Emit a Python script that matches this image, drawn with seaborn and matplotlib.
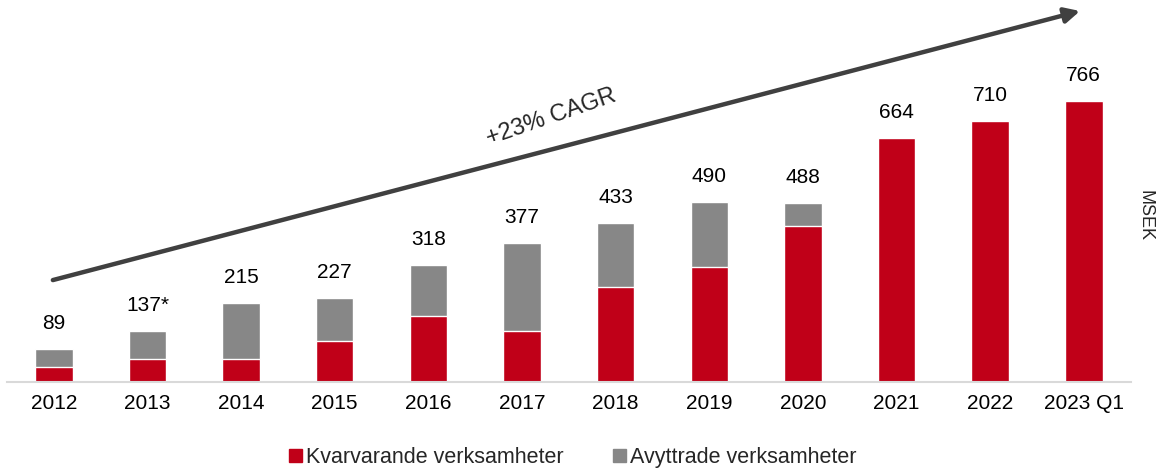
import numpy as np
import matplotlib
matplotlib.use("Agg")
import matplotlib.pyplot as plt
import seaborn as sns
from matplotlib.patches import Patch

# Data (MSEK)
years = ["2012", "2013", "2014", "2015", "2016", "2017", "2018", "2019", "2020", "2021", "2022", "2023 Q1"]
kvarvarande = [41, 62, 63, 110, 180, 137, 258, 312, 424, 664, 710, 766]
avyttrade = [48, 75, 152, 117, 138, 240, 175, 178, 64, 0, 0, 0]
total_labels = ["89", "137*", "215", "227", "318", "377", "433", "490", "488", "664", "710", "766"]

RED = "#C00018"
GREY = "#878787"

sns.set_style("white")
plt.rcParams['font.family'] = ['Liberation Sans', 'DejaVu Sans']

fig = plt.figure(figsize=(11.62, 4.69), dpi=100)
ax = fig.add_axes([0.006, 0.186, 0.967, 0.814])

totals = np.array(kvarvarande) + np.array(avyttrade)

# stacked bars: full total in grey, red part drawn on top
sns.barplot(x=years, y=totals, color=GREY, width=0.4, saturation=1, ax=ax)
sns.barplot(x=years, y=kvarvarande, color=RED, width=0.4, saturation=1, ax=ax)

for i, lab in enumerate(total_labels):
    ax.annotate(lab, (i, totals[i]), xytext=(0, 16), textcoords="offset pixels",
                ha="center", va="bottom", fontsize=15, color="black")

ax.set_xlim(-0.5, len(years) - 0.5)
ax.set_ylim(0, 1040)
ax.set_yticks([])
ax.set_xlabel("")
ax.set_ylabel("")
for s in ["top", "right", "left"]:
    ax.spines[s].set_visible(False)
ax.spines["bottom"].set_color("#D9D9D9")
ax.spines["bottom"].set_linewidth(1.5)
ax.tick_params(axis="x", length=0, labelsize=15, pad=9, colors="black")

# CAGR arrow
ax.annotate("", xy=(10.96, 1010), xytext=(-0.01, 277),
            arrowprops=dict(arrowstyle="-|>,head_length=0.9,head_width=0.45",
                            color="#404040", lw=3.2, shrinkA=0, shrinkB=0))
ax.text(5.31, 720, "+23% CAGR", rotation=19, fontsize=17,
        ha="center", va="center", rotation_mode="anchor")

fig.text(0.985, 0.54, "MSEK", rotation=270, fontsize=13, ha="center", va="center")

handles = [Patch(color=RED, label="Kvarvarande verksamheter"),
           Patch(color=GREY, label="Avyttrade verksamheter")]
fig.legend(handles=handles, loc="center", bbox_to_anchor=(0.493, 0.024), ncol=2,
           frameon=False, fontsize=15.5, handlelength=0.6, handleheight=0.6,
           handletextpad=0.2, columnspacing=2.3)

fig.savefig("out.png", dpi=100)
